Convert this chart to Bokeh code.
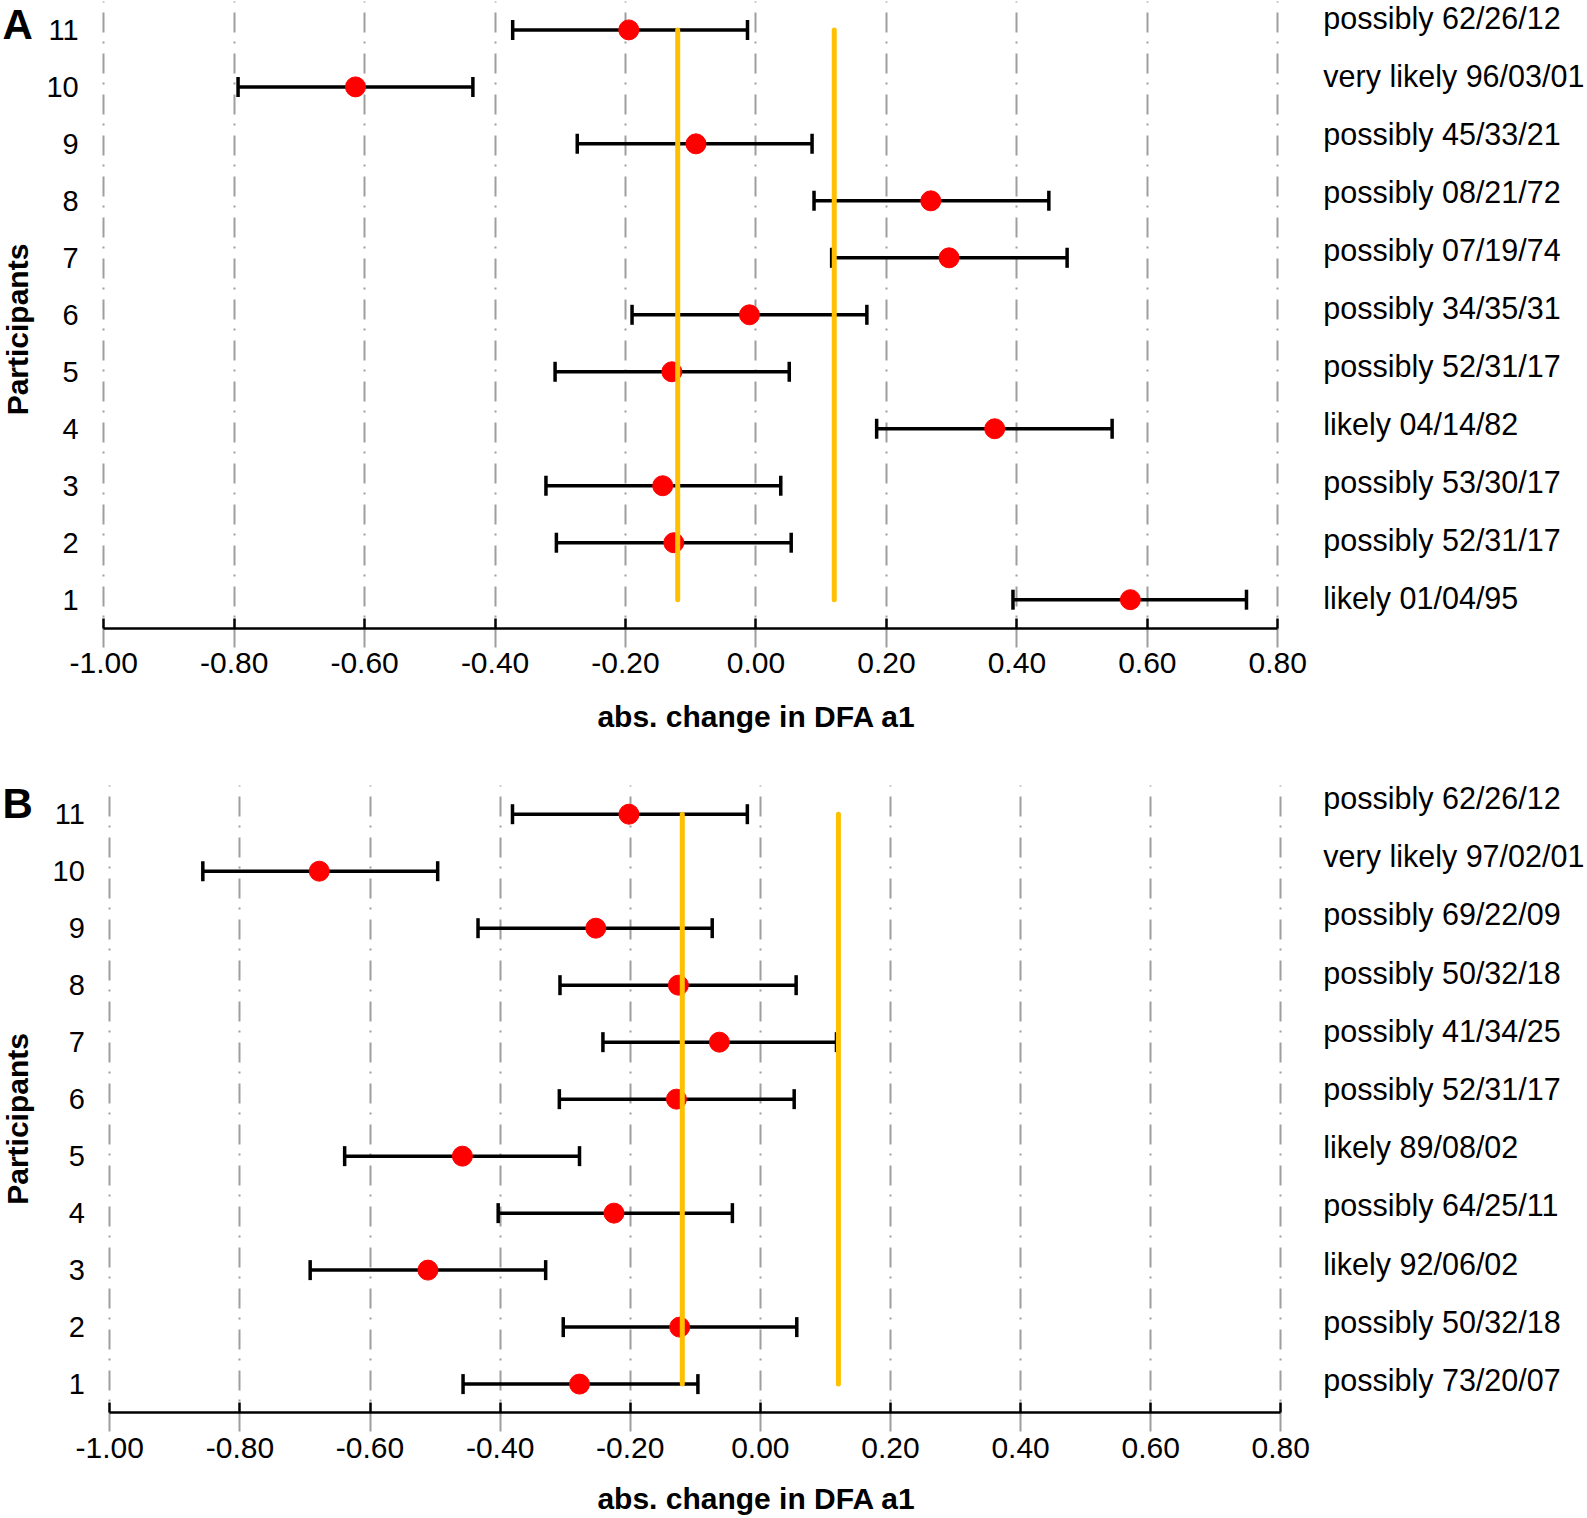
import math
from bokeh.plotting import figure
from bokeh.models import (ColumnDataSource, FixedTicker, NumeralTickFormatter,
                          LinearAxis, Range1d, Grid)
from bokeh.core.properties import value
from bokeh.layouts import column
from bokeh.embed import file_html
from bokeh.resources import INLINE

# ---------------- data ----------------
participants = [1, 2, 3, 4, 5, 6, 7, 8, 9, 10, 11]
x_ticks = [-1.0, -0.8, -0.6, -0.4, -0.2, 0.0, 0.2, 0.4, 0.6, 0.8]
thresholds = [-0.12, 0.12]

a_mean = [0.574, -0.126, -0.143, 0.366, -0.129, -0.010, 0.296, 0.268, -0.092, -0.614, -0.195]
a_lo = [0.394, -0.306, -0.322, 0.185, -0.308, -0.190, 0.116, 0.089, -0.274, -0.794, -0.373]
a_hi = [0.752, 0.054, 0.038, 0.546, 0.051, 0.170, 0.477, 0.449, 0.086, -0.434, -0.013]
a_labels = ["likely 01/04/95", "possibly 52/31/17", "possibly 53/30/17", "likely 04/14/82",
            "possibly 52/31/17", "possibly 34/35/31", "possibly 07/19/74", "possibly 08/21/72",
            "possibly 45/33/21", "very likely 96/03/01", "possibly 62/26/12"]

b_mean = [-0.278, -0.124, -0.511, -0.225, -0.458, -0.129, -0.063, -0.126, -0.253, -0.678, -0.202]
b_lo = [-0.457, -0.303, -0.692, -0.403, -0.639, -0.309, -0.242, -0.308, -0.434, -0.857, -0.381]
b_hi = [-0.096, 0.056, -0.330, -0.043, -0.278, 0.052, 0.117, 0.055, -0.074, -0.496, -0.020]
b_labels = ["possibly 73/20/07", "possibly 50/32/18", "likely 92/06/02", "possibly 64/25/11",
            "likely 89/08/02", "possibly 52/31/17", "possibly 41/34/25", "possibly 50/32/18",
            "possibly 69/22/09", "very likely 97/02/01", "possibly 62/26/12"]

FONT = "Liberation Sans"
X_TITLE = "abs. change in DFA a1"
Y_TITLE = "Participants"

W = 1587          # canvas width
MX = 0            # horizontal page offset of the canvas


def make_panel(letter, mean, lo, hi, labels, L):
    """L holds layout targets in page pixels."""
    H, y0c = L["H"], L["top"]
    kx = (x_ticks[-1] - x_ticks[0]) / (L["px_r"] - L["px_l"])
    xl = x_ticks[0] - (L["px_l"] - MX) * kx
    xr = xl + W * kx
    ky = (max(participants) - min(participants)) / (L["py_b"] - L["py_t"])
    yt = max(participants) + (L["py_t"] - y0c) * ky
    yb = yt - H * ky
    kl = (max(participants) - min(participants)) / (L["l_b"] - L["l_t"])
    lt = max(participants) + (L["l_t"] - y0c) * kl
    lb = lt - H * kl

    def X(px):
        return xl + (px - MX) * kx

    def Y(py):
        return yt - (py - y0c) * ky

    ylo, yhi = min(participants) - 0.5, max(participants) + 0.5

    p = figure(width=W, height=H, output_backend="svg", toolbar_location=None,
               x_range=Range1d(xl, xr), y_range=Range1d(yb, yt),
               min_border=0, x_axis_location=None, y_axis_location=None)
    p.extra_y_ranges = {"labels": Range1d(lb, lt)}
    p.outline_line_color = None
    p.background_fill_color = "white"
    p.border_fill_color = "white"

    # x axis (drawn at the bottom of the participant band)
    xa = LinearAxis(ticker=FixedTicker(ticks=x_ticks), bounds=(x_ticks[0], x_ticks[-1]),
                    formatter=NumeralTickFormatter(format="0.00"), fixed_location=ylo)
    xa.axis_line_width = 2.5
    xa.axis_line_color = "black"
    xa.major_tick_in = 10
    xa.major_tick_out = 0
    xa.major_tick_line_width = 2.5
    xa.minor_tick_line_color = None
    xa.major_label_text_font = FONT
    xa.major_label_text_font_size = "30px"
    xa.major_label_text_color = "black"
    xa.major_label_standoff = L["xstand"]
    p.add_layout(xa, "below")

    # y axis (participant numbers)
    ya = LinearAxis(ticker=FixedTicker(ticks=participants), fixed_location=x_ticks[0])
    ya.axis_line_color = None
    ya.major_tick_line_color = None
    ya.minor_tick_line_color = None
    ya.major_label_text_font = FONT
    ya.major_label_text_font_size = "29px"
    ya.major_label_text_color = "black"
    ya.major_label_standoff = L["ystand"]
    p.add_layout(ya, "left")

    # vertical grid lines
    grid_bottom = Y(L["py_b"] + 0.5 / ky + L["grid_below"])
    grid_top = min(yhi, yt)
    if "cross_bounds" in Grid.properties():
        p.xgrid.ticker = FixedTicker(ticks=x_ticks)
        p.xgrid.cross_bounds = (grid_bottom, grid_top)
        p.xgrid.grid_line_color = "#9e9e9e"
        p.xgrid.grid_line_width = 2
        p.xgrid.grid_line_dash = "20 10 2 9"
    else:
        p.xgrid.grid_line_color = None
        p.segment(x0=x_ticks, x1=x_ticks, y0=[grid_top] * len(x_ticks),
                  y1=[grid_bottom] * len(x_ticks), line_color="#9e9e9e", line_width=2,
                  line_dash="20 10 2 9")
    p.ygrid.grid_line_color = None

    src = ColumnDataSource(dict(y=participants, mean=mean, lo=lo, hi=hi, label=labels))
    p.segment(x0="lo", y0="y", x1="hi", y1="y", source=src, line_color="black", line_width=3.5)
    p.scatter(x="lo", y="y", source=src, marker="dash", angle=math.pi / 2, size=20,
              line_color="black", line_width=3.5)
    p.scatter(x="hi", y="y", source=src, marker="dash", angle=math.pi / 2, size=20,
              line_color="black", line_width=3.5)
    p.scatter(x="mean", y="y", source=src, marker="circle", size=20,
              fill_color="#ff0000", line_color="#ff0000")

    tsrc = ColumnDataSource(dict(x=thresholds,
                                 y0=[min(participants)] * len(thresholds),
                                 y1=[max(participants)] * len(thresholds)))
    p.segment(x0="x", y0="y0", x1="x", y1="y1", source=tsrc, line_color="#FFC000",
              line_width=5, line_cap="round")

    # qualitative labels on the right
    p.text(x=X(L["l_x"]), y="y", text="label", source=src, y_range_name="labels",
           text_font=value(FONT), text_font_size=value("30.5px"), text_color="black",
           text_align="left", text_baseline="middle")

    # axis titles and panel letter
    p.text(x=[X(L["xt_x"])], y=[Y(L["xt_y"])], text=[X_TITLE], text_font=value(FONT),
           text_font_size=value("30px"), text_font_style="bold", text_color="black",
           text_align="center", text_baseline="middle")
    p.text(x=[X(L["yt_x"])], y=[Y(L["yt_y"])], text=[Y_TITLE], angle=math.pi / 2,
           text_font=value(FONT), text_font_size=value("30px"), text_font_style="bold",
           text_color="black", text_align="center", text_baseline="middle")
    p.text(x=[X(L["let_x"])], y=[Y(L["let_y"])], text=[letter], text_font=value(FONT),
           text_font_size=value("42px"), text_font_style="bold", text_color="black",
           text_align="left", text_baseline="middle")
    return p


LA = dict(H=756, top=0, px_l=103.2, px_r=1277.3, py_t=29.4, py_b=599.2,
          l_t=17.5, l_b=597.5, l_x=1322.8, xt_x=756.1, xt_y=715.7,
          yt_x=16.5, yt_y=329.0, let_x=2.0, let_y=24.0, xstand=25, ystand=19, grid_below=19)
LB = dict(H=760, top=756, px_l=109.3, px_r=1280.3, py_t=813.7, py_b=1383.6,
          l_t=797.5, l_b=1379.5, l_x=1322.8, xt_x=756.1, xt_y=1498.0,
          yt_x=16.5, yt_y=1118.4, let_x=2.0, let_y=803.0, xstand=25, ystand=19, grid_below=19)

pA = make_panel("A", a_mean, a_lo, a_hi, a_labels, LA)
pB = make_panel("B", b_mean, b_lo, b_hi, b_labels, LB)

layout = column(pA, pB, spacing=0)
open("out.html", "w").write(file_html(layout, INLINE))
